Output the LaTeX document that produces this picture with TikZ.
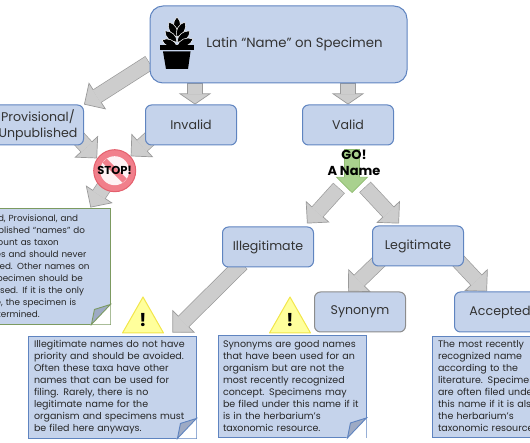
\documentclass[tikz,border=0pt]{standalone}
\usepackage{fontspec}
\setmainfont{Poppins}
\usepackage{xcolor}
\usetikzlibrary{positioning,arrows.meta,backgrounds}

\definecolor{boxblue}{HTML}{C5D3EB}
\definecolor{boxedge}{HTML}{5F84C0}
\definecolor{foldblue}{HTML}{9DAAC4}
\definecolor{notegreen}{HTML}{7C9A60}
\definecolor{arrowfill}{HTML}{CDCDCD}
\definecolor{arrowedge}{HTML}{9A9A9A}
\definecolor{gofill}{HTML}{A9D18E}
\definecolor{goedge}{HTML}{8FBC70}
\definecolor{stopfill}{HTML}{F17F8B}
\definecolor{stopedge}{HTML}{E4606D}
\definecolor{warnfill}{HTML}{FFFF9C}
\definecolor{warnedge}{HTML}{F2E64A}

% folded corner at the bottom right of a note
\newcommand{\dogear}[2]{
  \fill[white] ([yshift=20pt]#1.south east) -- (#1.south east) -- ([xshift=-20pt]#1.south east) -- cycle;
  \draw[#2,fill=foldblue,line width=.9pt] ([yshift=20pt]#1.south east) -- ([shift={(-16pt,15pt)}]#1.south east) -- ([xshift=-19pt]#1.south east) -- cycle;
}

\begin{document}
\begin{tikzpicture}[
  x=1pt,y=-1pt,
  node distance=60pt,
  every node/.style={align=center,inner sep=1pt},
  namebox/.style={draw=boxedge,fill=boxblue,line width=1pt,rounded corners=6pt,minimum width=91pt,minimum height=40pt,font=\fontsize{12.6}{16}\selectfont,text=black!80},
  notebox/.style={draw=boxedge,fill=boxblue,line width=.9pt,align=left,font=\fontsize{9.5}{12}\selectfont,text=black!85,minimum height=102pt,inner xsep=6pt},
  blockarrow/.style={draw=arrowedge,line width=15.6pt,
    -{Triangle[width=32pt,length=#1,line width=.7pt,fill=arrowfill]},
    postaction={draw=arrowfill,line width=14.2pt,arrows=-,shorten >=#1-1pt,shorten <=.6pt}},
  blockarrow/.default=16pt,
  goarrow/.style={draw=goedge,line width=16pt,
    -{Triangle[width=32pt,length=16pt,line width=.7pt,fill=gofill]},
    postaction={draw=gofill,line width=14.6pt,arrows=-,shorten >=15pt,shorten <=.6pt}},
  warnsign/.style={draw=warnedge,fill=warnfill,line width=1pt,line join=round},
  leaf/.style={fill=black,draw=white,line width=.5pt}
]
\useasboundingbox (0,0) rectangle (530,443);

\node (main) [namebox,minimum width=257pt,minimum height=77pt,rounded corners=13pt,font=\fontsize{13.3}{17}\selectfont] at (278.5,44.5) {\hspace*{32pt}Latin “Name” on Specimen};
\node (valid) [namebox] at (348,125) {Valid};
\node (invalid) [namebox,left=65pt of valid] {Invalid};
\node (prov) [namebox,left=61pt of invalid] {Provisional/\\Unpublished};
\node (legit) [namebox] at (418,246) {Legitimate};
\node (illeg) [namebox,left=58pt of legit,yshift=-1pt] {Illegitimate};
\node (syn) [namebox,draw=black!45] at (360,312) {Synonym};
\node (acc) [namebox,right=48pt of syn] {Accepted};

\node (provnote) [notebox,draw=notegreen,text width=129pt,minimum height=116pt,font=\fontsize{8.8}{12}\selectfont] at (39.5,266) {Invalid, Provisional, and\\Unpublished “names” do\\not count as taxon\\names and should never\\be used. Other names on\\the specimen should be\\assessed. If it is the only\\name, the specimen is\\undetermined.};
\node (illnote) [notebox,text width=156pt] at (112,387) {Illegitimate names do not have\\priority and should be avoided.\\Often these taxa have other\\names that can be used for\\filing. Rarely, there is no\\legitimate name for the\\organism and specimens must\\be filed here anyways.};
\node (synnote) [notebox,text width=138pt,inner xsep=5pt] at (292,386.5) {Synonyms are good names\\that have been used for an\\organism but are not the\\most recently recognized\\concept.  Specimens may\\be filed under this name if it\\is in the herbarium’s\\taxonomic resource.};
\node (accnote) [notebox,text width=116pt,minimum height=101pt] at (496,386.5) {The most recently\\recognized name\\according to the\\literature. Specimens\\are often filed under\\this name if it is also\\the herbarium’s\\taxonomic resource.};

\dogear{provnote}{notegreen}
\dogear{illnote}{boxedge}
\dogear{synnote}{boxedge}

% potted plant
\foreach \tipx/\tipy/\baseb in {177/17/33,169/22/37,185/22/37,165/31/42,190/31/42,162/40/46,193/39/46}
  \path[leaf] (177,\baseb) to[bend left=48] (\tipx,\tipy) to[bend left=48] (177,\baseb);
\fill[black] (160,45.5) rectangle (193.5,50);
\fill[black] (163,51.5) -- (190.5,51.5) -- (188,69) -- (166,69) -- cycle;

% stop sign
\node (stop) [circle,draw=stopedge,fill=stopfill,line width=1pt,minimum size=42pt] at (114.7,170.7) {};
\fill[white!90!stopfill] (stop.center) circle (14.5);
\draw[stopfill,line width=6pt] ([shift={(-10pt,10pt)}]stop.center) -- ([shift={(10pt,-10pt)}]stop.center);
\node (stoptext) [font=\fontsize{11.5}{14}\bfseries\selectfont] at (stop.center) {STOP!};

\coordinate (gotop) at (352,149);
\coordinate (gotip) at (352,193);
\coordinate (goleft) at (339,188);
\coordinate (goright) at (365,187);

\begin{scope}[on background layer]
\draw[blockarrow] (main.188) -- (prov.north east);
\draw[blockarrow=11pt] ([xshift=4pt]invalid.north |- main.south) -- ([xshift=4pt]invalid.north);
\draw[blockarrow=11pt] (valid.north |- main.south) -- (valid.north);
\draw[blockarrow] ([shift={(-8pt,10pt)}]prov.south east) -- (stop.145);
\draw[blockarrow] ([shift={(6pt,8pt)}]invalid.south west) -- (stop.42);
\draw[blockarrow] (stop.center) -- ([xshift=-20pt]provnote.north east);
\draw[blockarrow] (goleft) -- ([shift={(-7pt,3pt)}]illeg.north east);
\draw[blockarrow] (goright) -- ([shift={(-19pt,2pt)}]legit.north);
\draw[blockarrow] ([shift={(8pt,6pt)}]legit.south west) -- ([xshift=-12pt]syn.north);
\draw[blockarrow] ([shift={(-8pt,8pt)}]legit.south east) -- ([xshift=-13pt]acc.north);
\draw[blockarrow] ([shift={(20pt,4pt)}]illeg.south west) -- ([shift={(-24pt,3pt)}]illnote.north east);
\end{scope}

\draw[goarrow] (gotop) -- (gotip);
\node (goname) [font=\fontsize{13}{16}\bfseries\selectfont] at (354,163) {GO!\\A Name};

\foreach \warnx/\warnname in {143/warnill,290/warnsyn}{
  \path[warnsign] (\warnx,297) -- (\warnx+20.5,333) -- (\warnx-20.5,333) -- cycle;
  \node (\warnname) [font=\fontsize{18}{20}\bfseries\selectfont] at (\warnx,320) {!};
}
\end{tikzpicture}
\end{document}
